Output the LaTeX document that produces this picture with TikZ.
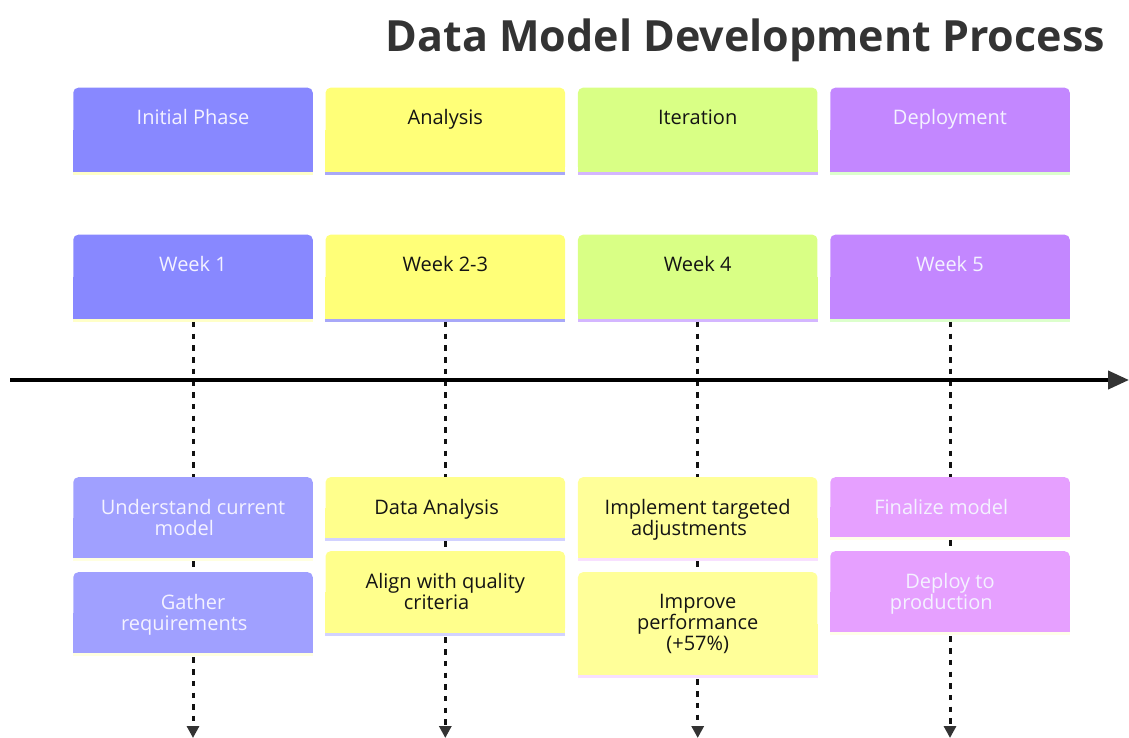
\documentclass[tikz,border=0pt]{standalone}
\usepackage{fontspec}
\setmainfont{Open Sans}
\usetikzlibrary{arrows.meta}

\definecolor{ink}{HTML}{333333}
\definecolor{dash}{HTML}{111111}
\definecolor{txtlight}{HTML}{F4F2FF}
\definecolor{txtdark}{HTML}{141414}
% column 1
\definecolor{hA}{HTML}{8888FF}\definecolor{hAs}{HTML}{FFFFC8}
\definecolor{tA}{HTML}{A0A0FF}\definecolor{tAs}{HTML}{FFFFE0}
% column 2
\definecolor{hB}{HTML}{FFFF78}\definecolor{hBs}{HTML}{A8A8F8}
\definecolor{tB}{HTML}{FFFF8C}\definecolor{tBs}{HTML}{D2D2FF}
% column 3
\definecolor{hC}{HTML}{D9FF85}\definecolor{hCs}{HTML}{D4B6FF}
\definecolor{tC}{HTML}{FFFF99}\definecolor{tCs}{HTML}{F8E0FF}
% column 4
\definecolor{hD}{HTML}{C387FF}\definecolor{hDs}{HTML}{DCFFCC}
\definecolor{tD}{HTML}{E6A0FF}\definecolor{tDs}{HTML}{FFFFE8}

% trailing space kept at the end of a wrapped line
\newcommand\trail{\hspace*{17.4pt}}

% card: name, centre x, top y, height, fill, stripe, text colour, text
\newcommand\tlcard[8]{%
  \node[cardbox, fill=#5, minimum height=#4pt, anchor=north] (#1) at (#2,#3) {};
  \fill[#5] (#1.west) rectangle (#1.south east);
  \fill[#6] (#1.south west) rectangle ([yshift=-3pt]#1.south east);
  \node[cardtext, text=#7, anchor=north] (#1-t) at ([yshift=-22pt]#1.north) {#8};
}

\tikzset{
  cardbox/.style={draw=none, minimum width=239.5pt, inner sep=0pt, rounded corners=5pt},
  cardtext/.style={align=center, inner sep=0pt, font=\fontsize{20}{21}\selectfont},
  link/.style={draw=dash, line width=3pt, dash pattern=on 5.5pt off 6.2pt},
  linkend/.style={link, -{Triangle[length=12pt,width=12pt,color=ink]}},
  axis/.style={draw=black, line width=4pt, -{Triangle[length=21pt,width=18pt,color=ink]}}
}

\begin{document}
\begin{tikzpicture}[x=1pt,y=-1pt]
\useasboundingbox (0,0) rectangle (1129,738);

\node[anchor=base east, inner sep=0pt, text=ink,
      font=\bfseries\fontsize{43}{50}\selectfont] (title) at (1105,52)
  {Data Model Development Process};

% phase headers
\tlcard{p1}{193}{87.5}{84}{hA}{hAs}{txtlight}{Initial Phase}
\tlcard{p2}{445.3}{87.5}{84}{hB}{hBs}{txtdark}{Analysis}
\tlcard{p3}{697.7}{87.5}{84}{hC}{hCs}{txtdark}{Iteration}
\tlcard{p4}{950}{87.5}{84}{hD}{hDs}{txtlight}{Deployment}

% week headers
\tlcard{w1}{193}{234.5}{84}{hA}{hAs}{txtlight}{Week 1}
\tlcard{w2}{445.3}{234.5}{84}{hB}{hBs}{txtdark}{Week 2-3}
\tlcard{w3}{697.7}{234.5}{84}{hC}{hCs}{txtdark}{Week 4}
\tlcard{w4}{950}{234.5}{84}{hD}{hDs}{txtlight}{Week 5}

% tasks
\tlcard{a1}{193}{477}{81}{tA}{tAs}{txtlight}{Understand current\\model\trail}
\tlcard{b1}{193}{572}{81}{tA}{tAs}{txtlight}{Gather\\requirements\trail}
\tlcard{a2}{445.3}{477}{61}{tB}{tBs}{txtdark}{Data Analysis\trail}
\tlcard{b2}{445.3}{551}{82}{tB}{tBs}{txtdark}{Align with quality\\criteria\trail}
\tlcard{a3}{697.7}{477}{81}{tC}{tCs}{txtdark}{Implement targeted\\adjustments\trail}
\tlcard{b3}{697.7}{572}{103}{tC}{tCs}{txtdark}{Improve\\performance\trail\\(+57\%)}
\tlcard{a4}{950}{477}{60}{tD}{tDs}{txtlight}{Finalize model\trail}
\tlcard{b4}{950}{551}{81}{tD}{tDs}{txtlight}{Deploy to\\production\trail}

% dashed connectors
\foreach \i/\x in {1/193,2/445.3,3/697.7,4/950}{
  \coordinate (e\i) at (\x,738);
  \draw[link] ([yshift=-3pt]w\i.south) -- (a\i.north);
  \draw[link] ([yshift=-3pt]a\i.south) -- (b\i.north);
  \draw[linkend] ([yshift=-4pt]b\i.south) -- (e\i);
}

% time axis
\coordinate (t0) at (10,380);
\coordinate (t1) at (1129,380);
\draw[axis] (t0) -- (t1);
\end{tikzpicture}
\end{document}
